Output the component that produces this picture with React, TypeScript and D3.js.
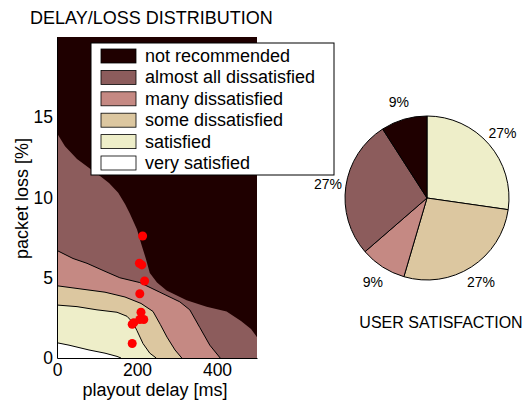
import React, { useEffect, useRef } from "react";
import * as d3 from "d3";

// satisfaction levels, darkest first
const levelNames = [
  "not recommended",
  "almost all dissatisfied",
  "many dissatisfied",
  "some dissatisfied",
  "satisfied",
  "very satisfied",
];
const levelColors = ["#1f0000", "#8c5c5c", "#c58983", "#dcc7a0", "#eeeec9", "#ffffff"];

// contour edges: [delay ms, loss %] — top edge of each region
const almostAllTop: [number, number][] = [
  [0, 14.0], [20, 13.2], [50, 12.4], [82, 11.8], [110, 11.3], [130, 10.9],
  [153, 10.3], [170, 9.6], [182, 9.0], [200, 8.0], [212, 7.0], [222, 6.2],
  [232, 5.3], [250, 4.7], [274, 4.2], [324, 3.6], [374, 3.2], [424, 2.9],
  [460, 2.3], [485, 1.8], [500, 1.3],
];
const manyTop: [number, number][] = [
  [0, 6.7], [40, 6.2], [75, 5.9], [120, 5.4], [157, 5.0], [207, 4.7],
  [257, 4.1], [307, 3.5], [332, 3.0], [357, 1.9], [382, 0.8], [408, 0],
];
const someTop: [number, number][] = [
  [0, 4.5], [60, 4.3], [120, 4.1], [170, 3.8], [210, 3.4], [240, 2.9],
  [258, 2.1], [275, 1.3], [295, 0.5], [312, 0],
];
const satisfiedTop: [number, number][] = [
  [0, 3.3], [50, 3.2], [100, 3.0], [150, 2.85], [175, 2.6], [190, 2.2],
  [200, 1.7], [215, 0.9], [232, 0.3], [248, 0],
];
const verySatisfiedTop: [number, number][] = [
  [0, 0.95], [30, 0.8], [80, 0.5], [120, 0.3], [150, 0.1], [160, 0],
];

// measured users
const userDelay = [214, 206, 212, 219, 207, 210, 207, 217, 188, 192, 188];
const userLoss = [7.6, 5.9, 5.8, 4.8, 4.0, 2.85, 2.4, 2.4, 2.1, 2.2, 0.9];

// pie: users per level, clockwise from 12 o'clock
const pieLevels = [4, 3, 2, 1, 0];
const pieCounts = [3, 3, 1, 3, 1];

const delayTicks = [0, 200, 400];
const lossTicks = [0, 5, 10, 15];

const FONT = "'Liberation Sans', Arial, Helvetica, sans-serif";

export default function App() {
  const ref = useRef<SVGSVGElement>(null);

  useEffect(() => {
    const svg = d3.select(ref.current);
    svg.selectAll("*").remove();

    const left = 57, right = 257, top = 37, bottom = 358;
    const x = d3.scaleLinear().domain([0, 500]).range([left, right]);
    const y = d3.scaleLinear().domain([0, 20]).range([bottom, top]);

    svg.append("defs").append("clipPath").attr("id", "plotClip")
      .append("rect")
      .attr("x", left).attr("y", top)
      .attr("width", right - left).attr("height", bottom - top);

    const plot = svg.append("g").attr("clip-path", "url(#plotClip)");
    plot.append("rect")
      .attr("x", left).attr("y", top)
      .attr("width", right - left).attr("height", bottom - top)
      .attr("fill", levelColors[0]);

    const area = d3.area<[number, number]>()
      .x((d) => x(d[0]))
      .y0(y(0))
      .y1((d) => y(d[1]));
    const line = d3.line<[number, number]>()
      .x((d) => x(d[0]))
      .y((d) => y(d[1]));

    const edges = [almostAllTop, manyTop, someTop, satisfiedTop, verySatisfiedTop];
    edges.forEach((edge, i) => {
      plot.append("path").attr("d", area(edge)).attr("fill", levelColors[i + 1]);
    });
    edges.forEach((edge, i) => {
      if (i === 0) return;
      plot.append("path").attr("d", line(edge))
        .attr("fill", "none").attr("stroke", "#000").attr("stroke-width", 1);
    });

    plot.selectAll("circle.user")
      .data(userDelay.map((d, i) => [d, userLoss[i]]))
      .join("circle")
      .attr("class", "user")
      .attr("cx", (d) => x(d[0]))
      .attr("cy", (d) => y(d[1]))
      .attr("r", 4.5)
      .attr("fill", "#ff0000");

    // axes
    const xAxis = svg.append("g")
      .attr("transform", `translate(0,${bottom})`)
      .call(d3.axisBottom(x).tickValues(delayTicks).tickSize(0).tickPadding(6).tickSizeOuter(0));
    const yAxis = svg.append("g")
      .attr("transform", `translate(${left},0)`)
      .call(d3.axisLeft(y).tickValues(lossTicks).tickSize(0).tickPadding(4).tickSizeOuter(0));
    [xAxis, yAxis].forEach((g) => {
      g.attr("font-family", FONT).attr("font-size", 17.5);
      g.selectAll("text").attr("fill", "#000");
      g.select(".domain").attr("stroke", "#000");
    });

    svg.append("text")
      .attr("x", (left + right) / 2 - 2).attr("y", 396)
      .attr("text-anchor", "middle")
      .attr("font-family", FONT).attr("font-size", 18)
      .text("playout delay [ms]");
    svg.append("text")
      .attr("transform", `translate(28,${(top + bottom) / 2 + 1}) rotate(-90)`)
      .attr("text-anchor", "middle")
      .attr("font-family", FONT).attr("font-size", 18)
      .text("packet loss [%]");
    svg.append("text")
      .attr("x", 30).attr("y", 24)
      .attr("font-family", FONT).attr("font-size", 18)
      .text("DELAY/LOSS DISTRIBUTION");

    // legend
    const legend = svg.append("g");
    legend.append("rect")
      .attr("x", 91).attr("y", 43).attr("width", 243).attr("height", 132)
      .attr("fill", "#fff").attr("stroke", "#000").attr("stroke-width", 1);
    const rows = legend.selectAll("g.row")
      .data(levelNames)
      .join("g")
      .attr("class", "row")
      .attr("transform", (d, i) => `translate(0,${56 + i * 21.4})`);
    rows.append("rect")
      .attr("x", 101).attr("y", -7).attr("width", 35).attr("height", 14)
      .attr("fill", (d, i) => levelColors[i])
      .attr("stroke", "#000").attr("stroke-width", 0.8);
    rows.append("text")
      .attr("x", 145).attr("y", 6)
      .attr("font-family", FONT).attr("font-size", 18)
      .text((d) => d);

    // pie
    const cx = 427, cy = 198, r = 82;
    const total = d3.sum(pieCounts);
    const arcs = d3.pie<number>().sort(null).value((d) => d)(pieCounts);
    const arc = d3.arc<d3.PieArcDatum<number>>().innerRadius(0).outerRadius(r);
    const labelArc = d3.arc<d3.PieArcDatum<number>>().innerRadius(100).outerRadius(100);
    const pie = svg.append("g").attr("transform", `translate(${cx},${cy})`);
    pie.selectAll("path")
      .data(arcs)
      .join("path")
      .attr("d", arc)
      .attr("fill", (d, i) => levelColors[pieLevels[i]])
      .attr("stroke", "#000").attr("stroke-width", 1);
    pie.selectAll("text")
      .data(arcs)
      .join("text")
      .attr("x", (d) => labelArc.centroid(d)[0])
      .attr("y", (d) => labelArc.centroid(d)[1] + 5)
      .attr("text-anchor", "middle")
      .attr("font-family", FONT).attr("font-size", 14)
      .text((d) => `${Math.round((100 * d.value) / total)}%`);
    svg.append("text")
      .attr("x", 441).attr("y", 328)
      .attr("text-anchor", "middle")
      .attr("font-family", FONT).attr("font-size", 16)
      .text("USER SATISFACTION");
  }, []);

  return (
    <svg
      ref={ref}
      width={531}
      height={401}
      style={{ position: "absolute", left: 0, top: 0, background: "#fff" }}
    />
  );
}
